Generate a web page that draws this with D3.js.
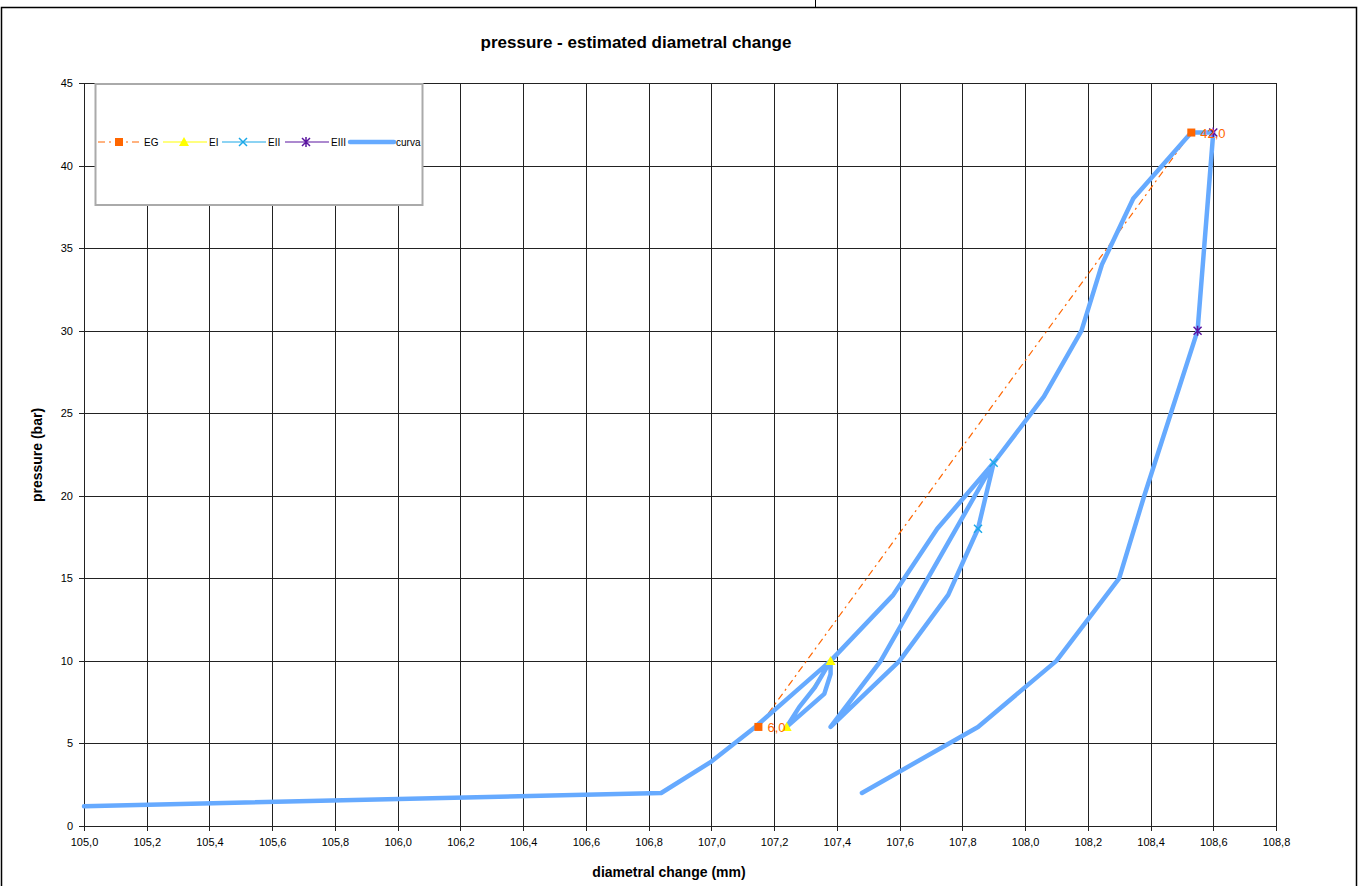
<!DOCTYPE html>
<html>
<head>
<meta charset="utf-8">
<script src="https://cdn.jsdelivr.net/npm/d3@7"></script>
<style>
  body { margin: 0; background: #fff; }
  svg { display: block; font-family: "Liberation Sans", Arial, sans-serif; }
  .grid line { stroke: #222; stroke-width: 1; shape-rendering: crispEdges; }
  .grid path { display: none; }
  .axis path, .axis line { stroke: #222; shape-rendering: crispEdges; }
  .axis text { font-size: 11px; fill: #000; }
</style>
</head>
<body>
<div id="chart"></div>
<script>
// ---- data ----
const xTicks = [105.0, 105.2, 105.4, 105.6, 105.8, 106.0, 106.2, 106.4, 106.6, 106.8,
                107.0, 107.2, 107.4, 107.6, 107.8, 108.0, 108.2, 108.4, 108.6, 108.8];
const yTicks = [0, 5, 10, 15, 20, 25, 30, 35, 40, 45];

// full loading / unloading path
const curveX = [105.0, 106.84, 107.0, 107.14, 107.26, 107.38,
                107.38, 107.36, 107.24,
                107.28, 107.33, 107.38, 107.58, 107.72, 107.9,
                107.85, 107.755, 107.6, 107.38,
                107.54, 107.66, 107.78, 107.9, 108.06, 108.18, 108.245, 108.345, 108.53, 108.6,
                108.55, 108.38, 108.3, 108.1, 107.85, 107.48];
const curveY = [1.2, 2.0, 3.9, 6, 8, 10,
                9.2, 8, 6,
                7.2, 8.4, 10, 14, 18, 22,
                18, 14, 10, 6,
                10, 14, 18, 22, 26, 30, 34, 38, 42, 42,
                30, 20, 15, 10, 6, 2];

const egX = [107.15, 108.53], egY = [6, 42];
const egLabels = ["6,0", "42,0"];
const eiX = [107.38, 107.24], eiY = [10, 6];
const eiiX = [107.9, 107.85], eiiY = [22, 18];
const eiiiX = [108.6, 108.55], eiiiY = [42, 30];

const seriesNames = ["EG", "EI", "EII", "EIII", "curva"];

// ---- layout ----
const config = {
    width: 1361, height: 886,
    plotLeft: 84, plotRight: 1276, plotTop: 83, plotBottom: 826
};
const colors = { EG: "#FF6600", EI: "#FFFF00", EII: "#1AA8E8", EIII: "#5A14A0", curva: "#66AAFF" };

const svg = d3.select("#chart").append("svg")
    .attr("width", config.width)
    .attr("height", config.height);

// outer chart frame
svg.append("rect")
    .attr("x", 1.5).attr("y", 7.5)
    .attr("width", 1355).attr("height", 880)
    .attr("fill", "none").attr("stroke", "#000").attr("stroke-width", 1.5);
svg.append("line")
    .attr("x1", 815.5).attr("x2", 815.5).attr("y1", 0).attr("y2", 7)
    .attr("stroke", "#000");

const x = d3.scaleLinear().domain([105, 108.8]).range([config.plotLeft, config.plotRight]);
const y = d3.scaleLinear().domain([0, 45]).range([config.plotBottom, config.plotTop]);

const locale = d3.formatLocale({ decimal: ",", thousands: ".", grouping: [3], currency: ["", ""] });
const fmt1 = locale.format(".1f");

// gridlines
svg.append("g").attr("class", "grid")
    .attr("transform", `translate(0,${config.plotBottom})`)
    .call(d3.axisBottom(x).tickValues(xTicks).tickSize(-(config.plotBottom - config.plotTop)).tickFormat(""));
svg.append("g").attr("class", "grid")
    .attr("transform", `translate(${config.plotLeft},0)`)
    .call(d3.axisLeft(y).tickValues(yTicks).tickSize(-(config.plotRight - config.plotLeft)).tickFormat(""));

// axes
svg.append("g").attr("class", "axis")
    .attr("transform", `translate(0,${config.plotBottom})`)
    .call(d3.axisBottom(x).tickValues(xTicks).tickSize(5).tickSizeOuter(0).tickPadding(7).tickFormat(fmt1));
svg.append("g").attr("class", "axis")
    .attr("transform", `translate(${config.plotLeft},0)`)
    .call(d3.axisLeft(y).tickValues(yTicks).tickSize(5).tickSizeOuter(0).tickPadding(6));

// titles
svg.append("text")
    .attr("x", 636).attr("y", 48)
    .attr("text-anchor", "middle")
    .attr("font-size", "17px").attr("font-weight", "bold")
    .text("pressure - estimated diametral change");
svg.append("text")
    .attr("x", 669).attr("y", 877)
    .attr("text-anchor", "middle")
    .attr("font-size", "14px").attr("font-weight", "bold")
    .text("diametral change (mm)");
svg.append("text")
    .attr("transform", "translate(42,455) rotate(-90)")
    .attr("text-anchor", "middle")
    .attr("font-size", "14px").attr("font-weight", "bold")
    .text("pressure (bar)");

const line = d3.line().x(d => x(d[0])).y(d => y(d[1]));
const zip = (xs, ys) => xs.map((v, i) => [v, ys[i]]);

const plot = svg.append("g");

// series lines
plot.append("path").datum(zip(egX, egY))
    .attr("d", line).attr("fill", "none")
    .attr("stroke", colors.EG).attr("stroke-width", 1.2)
    .attr("stroke-dasharray", "7,4,2,4");
plot.append("path").datum(zip(eiX, eiY))
    .attr("d", line).attr("fill", "none")
    .attr("stroke", colors.EI).attr("stroke-width", 1.2);
plot.append("path").datum(zip(eiiX, eiiY))
    .attr("d", line).attr("fill", "none")
    .attr("stroke", colors.EII).attr("stroke-width", 1.2);
plot.append("path").datum(zip(eiiiX, eiiiY))
    .attr("d", line).attr("fill", "none")
    .attr("stroke", colors.EIII).attr("stroke-width", 1.2);

plot.append("path").datum(zip(curveX, curveY))
    .attr("d", line).attr("fill", "none")
    .attr("stroke", colors.curva).attr("stroke-width", 4.5)
    .attr("stroke-linejoin", "round").attr("stroke-linecap", "round");

// marker helpers
function drawMarker(g, type, cx, cy, color) {
    if (type === "square") {
        g.append("rect").attr("x", cx - 4).attr("y", cy - 4).attr("width", 8).attr("height", 8).attr("fill", color);
    } else if (type === "triangle") {
        g.append("path").attr("d", `M${cx},${cy - 5}L${cx + 5},${cy + 4}L${cx - 5},${cy + 4}Z`).attr("fill", color);
    } else if (type === "x") {
        g.append("path").attr("d", `M${cx - 4},${cy - 4}L${cx + 4},${cy + 4}M${cx - 4},${cy + 4}L${cx + 4},${cy - 4}`)
            .attr("stroke", color).attr("stroke-width", 1.5);
    } else if (type === "star") {
        g.append("path").attr("d", `M${cx - 4},${cy - 4}L${cx + 4},${cy + 4}M${cx - 4},${cy + 4}L${cx + 4},${cy - 4}M${cx},${cy - 5}L${cx},${cy + 5}`)
            .attr("stroke", color).attr("stroke-width", 1.5);
    }
}

zip(egX, egY).forEach(d => drawMarker(plot, "square", x(d[0]), y(d[1]), colors.EG));
zip(eiX, eiY).forEach(d => drawMarker(plot, "triangle", x(d[0]), y(d[1]), colors.EI));
zip(eiiX, eiiY).forEach(d => drawMarker(plot, "x", x(d[0]), y(d[1]), colors.EII));
zip(eiiiX, eiiiY).forEach(d => drawMarker(plot, "star", x(d[0]), y(d[1]), colors.EIII));

// EG data labels
zip(egX, egY).forEach((d, i) => {
    plot.append("text")
        .attr("x", x(d[0]) + 9).attr("y", y(d[1]) + 5)
        .attr("font-size", "13px").attr("fill", colors.EG)
        .text(egLabels[i]);
});

// legend
const legend = svg.append("g");
legend.append("rect")
    .attr("x", 95.5).attr("y", 84).attr("width", 327).attr("height", 121)
    .attr("fill", "#fff").attr("stroke", "#aaa").attr("stroke-width", 2);

const legendItems = [
    { name: seriesNames[0], x0: 98, marker: "square", color: colors.EG, dash: "7,4,2,4", w: 1.2 },
    { name: seriesNames[1], x0: 163, marker: "triangle", color: colors.EI, dash: null, w: 1.2 },
    { name: seriesNames[2], x0: 222, marker: "x", color: colors.EII, dash: null, w: 1.2 },
    { name: seriesNames[3], x0: 285, marker: "star", color: colors.EIII, dash: null, w: 1.2 },
    { name: seriesNames[4], x0: 350, marker: null, color: colors.curva, dash: null, w: 4.5 }
];
const ly = 142;
legendItems.forEach(it => {
    legend.append("line")
        .attr("x1", it.x0).attr("x2", it.x0 + 44).attr("y1", ly).attr("y2", ly)
        .attr("stroke", it.color).attr("stroke-width", it.w)
        .attr("stroke-dasharray", it.dash)
        .attr("stroke-linecap", it.marker ? "butt" : "round");
    if (it.marker) drawMarker(legend, it.marker, it.x0 + 21, ly, it.color);
    legend.append("text")
        .attr("x", it.x0 + 46).attr("y", ly + 4)
        .attr("font-size", "10px").attr("fill", "#000")
        .text(it.name);
});
</script>
</body>
</html>
